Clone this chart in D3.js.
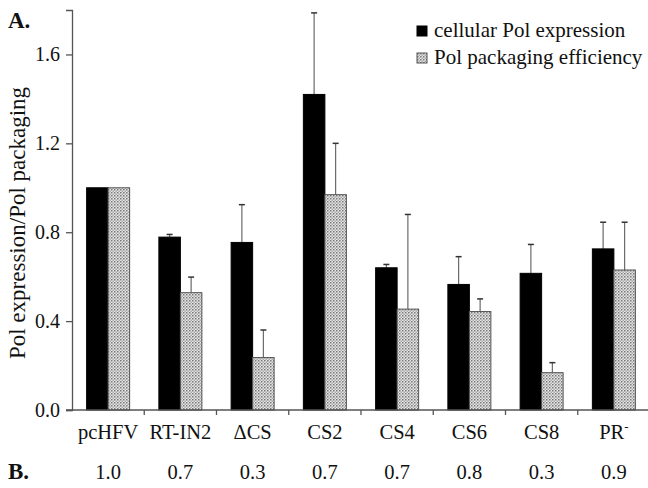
<!DOCTYPE html>
<html>
<head>
<meta charset="utf-8">
<script src="https://cdn.jsdelivr.net/npm/d3@7"></script>
<style>
  html, body { margin: 0; padding: 0; background: #fff; }
  svg text { font-family: "Liberation Serif", "Tinos", "Times New Roman", "DejaVu Serif", serif; fill: #111; }
</style>
</head>
<body>
<div id="chart"></div>
<script>
// Data
const categories = ["pcHFV", "RT-IN2", "\u0394CS", "CS2", "CS4", "CS6", "CS8", "PR"];
const seriesNames = ["cellular Pol expression", "Pol packaging efficiency"];
const expression = [1.0, 0.778, 0.754, 1.42, 0.64, 0.565, 0.615, 0.725];
const expressionErr = [0, 0.012, 0.17, 0.367, 0.015, 0.125, 0.13, 0.12];
const packaging = [1.0, 0.528, 0.236, 0.969, 0.454, 0.443, 0.168, 0.63];
const packagingErr = [0, 0.07, 0.124, 0.231, 0.426, 0.057, 0.045, 0.215];
const ratios = ["1.0", "0.7", "0.3", "0.7", "0.7", "0.8", "0.3", "0.9"];
const yTicks = [0, 0.4, 0.8, 1.2, 1.6];

const W = 648, H = 488;
const M = { top: 10, left: 72, right: -2, bottom: 78 };
const FONT = '"Liberation Serif", "Tinos", "Times New Roman", "DejaVu Serif", serif';

function render() {
    const svg = d3.select("#chart").append("svg")
        .attr("width", W).attr("height", H)
        .attr("font-family", FONT);

    const defs = svg.append("defs");
    const pat = defs.append("pattern")
        .attr("id", "dots").attr("patternUnits", "userSpaceOnUse")
        .attr("width", 3).attr("height", 3);
    pat.append("rect").attr("width", 3).attr("height", 3).attr("fill", "#e6e6e6");
    pat.append("rect").attr("width", 1.5).attr("height", 1.5).attr("fill", "#777");
    pat.append("rect").attr("x", 1.5).attr("y", 1.5).attr("width", 1.5).attr("height", 1.5).attr("fill", "#aaa");

    const x = d3.scaleBand().domain(categories).range([M.left, W - M.right]).padding(0);
    const xSub = d3.scaleBand().domain(seriesNames).range([0, x.bandwidth()]).paddingInner(0).paddingOuter(0.68);
    const y = d3.scaleLinear().domain([0, 1.8]).range([410, M.top]);

    const rows = categories.map((c, i) => ({
        cat: c,
        vals: [
            { s: seriesNames[0], v: expression[i], e: expressionErr[i] },
            { s: seriesNames[1], v: packaging[i], e: packagingErr[i] }
        ]
    }));

    // error bars (drawn first so bars cover the lower part)
    const g = svg.append("g");
    rows.forEach(r => {
        r.vals.forEach(d => {
            if (d.e <= 0) return;
            const cx = x(r.cat) + xSub(d.s) + xSub.bandwidth() / 2;
            g.append("line").attr("x1", cx).attr("x2", cx)
                .attr("y1", y(d.v)).attr("y2", y(d.v + d.e))
                .attr("stroke", "#6a6a6a").attr("stroke-width", 1.2);
            g.append("line").attr("x1", cx - 3).attr("x2", cx + 3)
                .attr("y1", y(d.v + d.e)).attr("y2", y(d.v + d.e))
                .attr("stroke", "#333").attr("stroke-width", 1.5);
        });
    });

    // bars
    rows.forEach(r => {
        r.vals.forEach((d, k) => {
            svg.append("rect")
                .attr("x", x(r.cat) + xSub(d.s))
                .attr("y", y(d.v))
                .attr("width", xSub.bandwidth())
                .attr("height", y(0) - y(d.v))
                .attr("fill", k === 0 ? "#000" : "url(#dots)")
                .attr("stroke", k === 0 ? "#000" : "#555")
                .attr("stroke-width", 1);
        });
    });

    // y axis
    const yAxis = svg.append("g").attr("transform", `translate(${M.left},0)`)
        .call(d3.axisLeft(y).tickValues(yTicks).tickFormat(d3.format(".1f")).tickSize(6).tickPadding(6));
    yAxis.attr("font-family", FONT);
    yAxis.select(".domain").attr("stroke", "#555").attr("stroke-width", 1.3);
    yAxis.selectAll(".tick line").attr("stroke", "#555").attr("stroke-width", 1.3);
    yAxis.selectAll("text").attr("font-size", 20).attr("fill", "#333");

    // x axis with ticks at the group boundaries
    const xAxis = svg.append("g").attr("transform", `translate(0,${y(0)})`);
    xAxis.append("line").attr("x1", M.left - 6).attr("x2", W)
        .attr("stroke", "#555").attr("stroke-width", 1.3);
    categories.forEach(c => {
        const bx = x(c) + x.bandwidth();
        xAxis.append("line").attr("x1", bx).attr("x2", bx).attr("y1", 0).attr("y2", 5)
            .attr("stroke", "#555").attr("stroke-width", 1.3);
    });
    categories.forEach((c, i) => {
        const t = xAxis.append("text")
            .attr("x", x(c) + x.bandwidth() / 2).attr("y", 29)
            .attr("text-anchor", "middle").attr("font-size", 20.5);
        t.append("tspan").text(c);
        if (c === "PR") {
            t.append("tspan").attr("font-size", 13).attr("dy", -8).text("-");
        }
    });

    // B. row of ratios
    svg.append("text").attr("x", 8).attr("y", 479)
        .attr("font-size", 23).attr("font-weight", "bold").text("B.");
    ratios.forEach((v, i) => {
        svg.append("text").attr("x", x(categories[i]) + x.bandwidth() / 2).attr("y", 479)
            .attr("text-anchor", "middle").attr("font-size", 20.5).text(v);
    });

    // A. panel label
    svg.append("text").attr("x", 8).attr("y", 28)
        .attr("font-size", 23).attr("font-weight", "bold").text("A.");

    // y label
    svg.append("text")
        .attr("transform", `translate(25,223) rotate(-90)`)
        .attr("text-anchor", "middle").attr("font-size", 23)
        .text("Pol expression/Pol packaging");

    // legend
    const lg = svg.append("g").attr("transform", "translate(417,26)");
    seriesNames.forEach((s, i) => {
        lg.append("rect").attr("x", 0).attr("y", i * 27).attr("width", 10).attr("height", 10)
            .attr("fill", i === 0 ? "#000" : "url(#dots)")
            .attr("stroke", i === 0 ? "#000" : "#555");
        lg.append("text").attr("x", 17).attr("y", i * 27 + 11)
            .attr("font-size", 21).text(s);
    });
}

document.addEventListener("DOMContentLoaded", render);
</script>
</body>
</html>
